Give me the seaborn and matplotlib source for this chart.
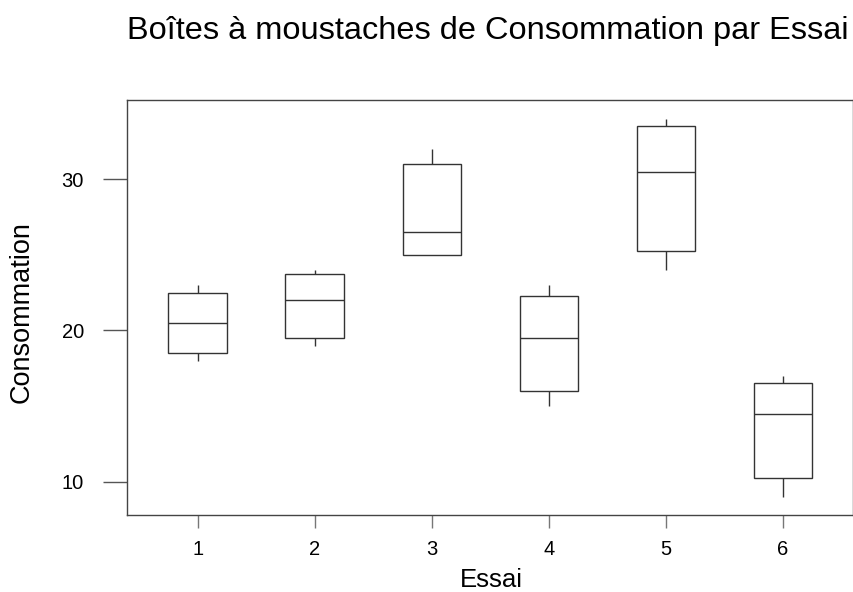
import numpy as np
import pandas as pd
import seaborn as sns
import matplotlib
matplotlib.use("Agg")
import matplotlib.pyplot as plt

# Five-number summaries (min, Q1, median, Q3, max)
essais = ["1", "2", "3", "4", "5", "6"]
mins    = [18.0, 19.0, 25.0, 15.0, 24.0,  9.0]
q1s     = [18.5, 19.5, 25.0, 16.0, 25.25, 10.25]
medians = [20.5, 22.0, 26.5, 19.5, 30.5, 14.5]
q3s     = [22.5, 23.75, 31.0, 22.25, 33.5, 16.5]
maxs    = [23.0, 24.0, 32.0, 23.0, 34.0, 17.0]

rows = []
for e, a, b, c, d, f in zip(essais, mins, q1s, medians, q3s, maxs):
    for v in (a, b, c, d, f):
        rows.append({"Essai": e, "Consommation": v})
df = pd.DataFrame(rows)

sns.set_theme(style="white")
plt.rcParams["font.family"] = ["Liberation Sans", "DejaVu Sans"]

fig = plt.figure(figsize=(8.54, 5.92), dpi=100)
ax = fig.add_axes([127/854, 1 - 515.3/592, (853 - 127)/854, (515.3 - 100.3)/592])

lc = "#333333"
sns.boxplot(data=df, x="Essai", y="Consommation", order=essais, ax=ax,
            color="white", linecolor=lc, linewidth=1.0, width=0.5,
            whis=np.inf, fill=True,
            capprops={"visible": False},
            medianprops={"color": lc, "linewidth": 1.0})

ax.set_xlim(-0.603, 5.597)
ax.set_ylim(7.78, 35.22)
ax.set_yticks([10, 20, 30])

for s in ax.spines.values():
    s.set_visible(True)
    s.set_color("#444444")
    s.set_linewidth(1.0)

ax.tick_params(axis="y", direction="out", length=17, width=1, color="#555555",
               labelsize=14.5, pad=14, labelcolor="black")
ax.tick_params(axis="x", direction="out", length=9.5, width=1, color="#777777",
               labelsize=14.5, pad=8.5, labelcolor="black")
ax.tick_params(left=True, bottom=True)

ax.set_xlabel("")
ax.set_ylabel("")
fig.text(491 / 854, 1 - 587 / 592, "Essai", ha="center", va="baseline",
         fontsize=18.5, color="black")
fig.text(22 / 854, 1 - 312 / 592, "Consommation", ha="center", va="center",
         rotation=90, fontsize=19.5, color="black")
fig.text((127 + 848) / 2 / 854, 1 - 38.5 / 592,
         "Boîtes à moustaches de Consommation par Essai",
         ha="center", va="baseline", fontsize=23.4, color="black")

fig.savefig("out.png", dpi=100, facecolor="white")
